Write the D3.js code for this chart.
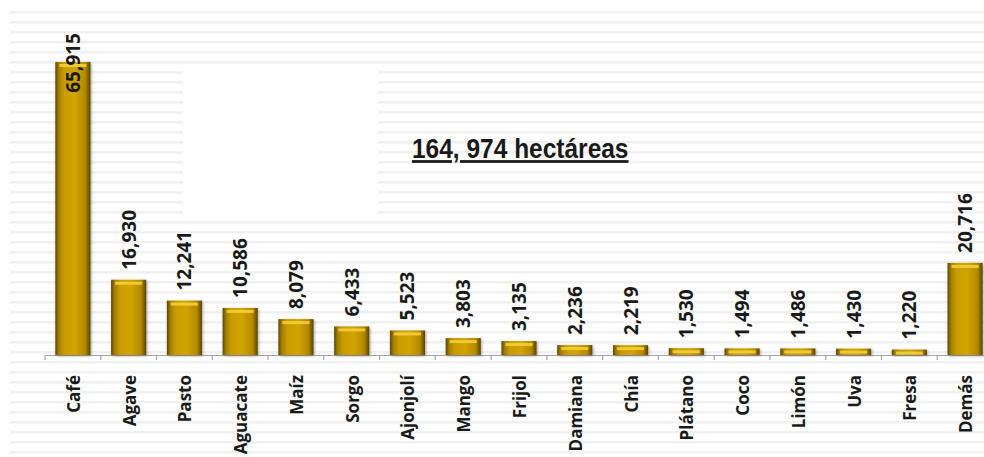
<!DOCTYPE html>
<html>
<head>
<meta charset="utf-8">
<script src="https://cdn.jsdelivr.net/npm/d3@7"></script>
<style>
  html, body { margin: 0; padding: 0; background: #ffffff; }
  svg { display: block; }
</style>
</head>
<body>
<svg id="chart" width="984" height="457"></svg>
<script>
// Superficie sembrada por cultivo (hectáreas)
const categories = ["Café", "Agave", "Pasto", "Aguacate", "Maíz", "Sorgo", "Ajonjolí", "Mango",
  "Frijol", "Damiana", "Chía", "Plátano", "Coco", "Limón", "Uva", "Fresa", "Demás"];
const values = [65915, 16930, 12241, 10586, 8079, 6433, 5523, 3803,
  3135, 2236, 2219, 1530, 1494, 1486, 1430, 1220, 20716];
const totalLabel = "164, 974 hectáreas";

const W = 984, H = 457;
const svg = d3.select("#chart");

const margin = { left: 45, right: -9, top: 33, bottom: 102 };
const baseY = H - margin.bottom;

const defs = svg.append("defs");
const grad = defs.append("linearGradient").attr("id", "barGrad")
  .attr("x1", "0%").attr("x2", "100%").attr("y1", "0%").attr("y2", "0%");
[["0%", "#5e4700"], ["10%", "#a27f00"], ["25%", "#c99c00"], ["55%", "#d2a400"],
 ["85%", "#b38a00"], ["100%", "#5a4300"]].forEach(([o, c]) =>
  grad.append("stop").attr("offset", o).attr("stop-color", c));

const shadow = defs.append("filter").attr("id", "barShadow")
  .attr("x", "-30%").attr("y", "-30%").attr("width", "160%").attr("height", "160%");
shadow.append("feDropShadow").attr("dx", 1).attr("dy", 1).attr("stdDeviation", 1.5)
  .attr("flood-color", "#000").attr("flood-opacity", 0.35);

// Background: fine horizontal stripes with a blank panel behind the total
const stripeRows = d3.range(12, 453, 10);
svg.append("g").selectAll("rect").data(stripeRows).join("rect")
  .attr("x", 10).attr("y", d => d - 1)
  .attr("width", W - 10).attr("height", 2.5)
  .attr("fill", "#f0f0f0");
svg.append("rect")
  .attr("x", 183).attr("y", 67).attr("width", 195).attr("height", 151)
  .attr("fill", "#ffffff");

// Scales
const x = d3.scaleBand().domain(categories)
  .range([margin.left, W - margin.right]).paddingInner(0.37).paddingOuter(0.185);
const y = d3.scaleLinear().domain([0, 70000]).range([baseY, baseY - 70000 * (293 / 65915)]);

// Category axis
const axis = d3.axisBottom(x).tickSize(0).tickPadding(0);
const gAxis = svg.append("g").attr("transform", `translate(0,${baseY})`).call(axis);
gAxis.select(".domain").attr("stroke", "#a6a6a6").attr("stroke-width", 1.2);
gAxis.selectAll(".tick text").remove();

// Boundary tick marks between categories
const step = x.step();
const bounds = d3.range(categories.length + 1).map(i => x.range()[0] + i * step);
svg.append("g").selectAll("line").data(bounds).join("line")
  .attr("x1", d => d).attr("x2", d => d)
  .attr("y1", baseY).attr("y2", baseY + 5)
  .attr("stroke", "#a6a6a6").attr("stroke-width", 1.2);

// Category labels, rotated
svg.append("g").selectAll("text").data(categories).join("text")
  .attr("transform", d => `translate(${x(d) + x.bandwidth() / 2 + 7},${baseY + 20}) rotate(-90)`)
  .attr("text-anchor", "end")
  .style("font-family", "'Open Sans', sans-serif")
  .style("font-weight", 700)
  .style("font-size", "17px")
  .attr("fill", "#1a1a1a")
  .text(d => d);

// Bars
const data = categories.map((c, i) => ({ c, v: values[i] }));
const bars = svg.append("g").selectAll("g").data(data).join("g");
bars.append("rect")
  .attr("x", d => x(d.c)).attr("y", d => y(d.v))
  .attr("width", x.bandwidth()).attr("height", d => baseY - y(d.v))
  .attr("fill", "url(#barGrad)")
  .attr("filter", "url(#barShadow)");
bars.append("rect")
  .attr("x", d => x(d.c) + 4).attr("y", d => y(d.v) + 2)
  .attr("width", x.bandwidth() - 8).attr("height", 3)
  .attr("fill", "#f4cf3a").attr("opacity", 0.9);

// Value labels
const fmt = d3.format(",");
const valueLabels = svg.append("g").selectAll("text").data(data).join("text")
  .attr("text-anchor", "start")
  .style("font-family", "'Open Sans', sans-serif")
  .style("font-weight", 700)
  .style("font-size", "19px")
  .attr("fill", "#1a1a1a")
  .text(d => fmt(d.v));
valueLabels.each(function (d) {
  const len = this.getComputedTextLength();
  let start = y(d.v) - 10;
  if (start - len < margin.top) start = margin.top + len;
  d3.select(this).attr("transform",
    `translate(${x(d.c) + x.bandwidth() / 2 + 7},${start}) rotate(-90)`);
});

// Total
svg.append("text")
  .attr("transform", "translate(412,158) scale(1,1.12)")
  .style("font-family", "'Liberation Sans Narrow', 'Arial Narrow', sans-serif")
  .style("font-weight", 700)
  .style("font-size", "24.5px")
  .style("text-decoration", "underline")
  .attr("fill", "#1a1a1a")
  .text(totalLabel);
</script>
</body>
</html>
